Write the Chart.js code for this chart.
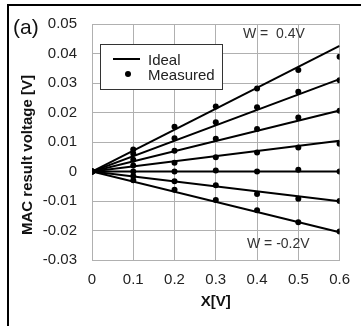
<!DOCTYPE html>
<html>
<head>
<meta charset="utf-8">
<script src="https://cdn.jsdelivr.net/npm/chart.js@4/dist/chart.umd.min.js"></script>
<style>
  html, body { margin: 0; padding: 0; background: #fff; }
  body { width: 361px; height: 326px; position: relative; overflow: hidden; font-family: "Liberation Sans", Arial, sans-serif; }
  #wrap { position: absolute; left: 0; top: 0; width: 361px; height: 326px; }
  .frame { position: absolute; left: 7px; top: 4px; width: 400px; height: 400px; border-top: 2px solid #000; border-left: 2px solid #000; }
  .txt { position: absolute; white-space: pre; color: #222; line-height: 1; }
  #legend { position: absolute; left: 100px; top: 44px; width: 121px; height: 44px; border: 1px solid #333; background: #fff; }
</style>
</head>
<body>
<div id="wrap"><canvas id="c" width="361" height="326"></canvas></div>
<div class="frame"></div>
<div class="txt" style="left:13px; top:16px; font-size:21px; color:#111;">(a)</div>
<div class="txt" id="ytitle" style="left:26px; top:155px; font-size:15px; font-weight:bold; color:#111; transform: translate(-50%,-50%) rotate(-90deg);">MAC result voltage [V]</div>
<div id="legend">
  <div style="position:absolute; left:12px; top:13px; width:27px; height:2px; background:#000;"></div>
  <div style="position:absolute; left:24px; top:26px; width:6px; height:6px; border-radius:50%; background:#000;"></div>
  <div class="txt" style="left:47px; top:7px; font-size:15px;">Ideal</div>
  <div class="txt" style="left:47px; top:22px; font-size:15px;">Measured</div>
</div>
<div class="txt" style="left:243px; top:26px; font-size:14px; color:#333;">W =  0.4V</div>
<div class="txt" style="left:247px; top:236px; font-size:14px; color:#333;">W = -0.2V</div>
<script>
const xValues = [0, 0.1, 0.2, 0.3, 0.4, 0.5, 0.6];
const weightLabels = ["0.4", "0.3", "0.2", "0.1", "0", "-0.1", "-0.2"];
const measuredW04  = [0, 0.0075, 0.0152, 0.0220, 0.0281, 0.0344, 0.0389];
const measuredW03  = [0, 0.0060, 0.0113, 0.0167, 0.0218, 0.0270, 0.0309];
const measuredW02  = [0, 0.0040, 0.0070, 0.0111, 0.0144, 0.0183, 0.0206];
const measuredW01  = [0, 0.0020, 0.0030, 0.0048, 0.0064, 0.0081, 0.0094];
const measuredW00  = [0, 0.0000, 0.0000, 0.0003, 0.0000, 0.0006, 0.0000];
const measuredWm01 = [0, -0.0015, -0.0033, -0.0047, -0.0076, -0.0092, -0.0100];
const measuredWm02 = [0, -0.0030, -0.0062, -0.0097, -0.0131, -0.0172, -0.0203];
const idealStartX = 0, idealEndX = 0.6;
const idealEnd = [0.0426, 0.0313, 0.0207, 0.0104, 0, -0.0101, -0.0206];
const yTicks = [-0.03, -0.02, -0.01, 0, 0.01, 0.02, 0.03, 0.04, 0.05];
const xTicks = [0, 0.1, 0.2, 0.3, 0.4, 0.5, 0.6];

const measured = [measuredW04, measuredW03, measuredW02, measuredW01, measuredW00, measuredWm01, measuredWm02];

const datasets = [];
idealEnd.forEach((v, i) => {
  datasets.push({
    label: 'Ideal W=' + weightLabels[i],
    data: [{x: idealStartX, y: 0}, {x: idealEndX, y: v}],
    showLine: true, borderColor: '#000', borderWidth: 2, pointRadius: 0, order: 2
  });
});
measured.forEach((arr, i) => {
  datasets.push({
    label: 'Measured W=' + weightLabels[i],
    data: arr.map((y, j) => ({x: xValues[j], y})),
    showLine: false, backgroundColor: '#000', borderColor: '#000', pointRadius: 3, pointBorderWidth: 0, order: 1
  });
});

const font = {family: '"Liberation Sans", Arial, sans-serif', size: 15};

new Chart(document.getElementById('c'), {
  type: 'scatter',
  data: { datasets },
  options: {
    responsive: false, animation: false, devicePixelRatio: 1,
    layout: { padding: { top: 20, right: 14, left: 0, bottom: 0 } },
    plugins: { legend: { display: false }, tooltip: { enabled: false } },
    scales: {
      x: {
        type: 'linear', min: 0, max: 0.6,
        afterBuildTicks: s => { s.ticks = xTicks.map(v => ({value: v})); },
        afterFit: s => { s.height = 66; },
        grid: { color: '#b0b0b0', lineWidth: 1, drawTicks: false },
        border: { color: '#b0b0b0' },
        ticks: { font, color: '#222', padding: 11, maxRotation: 0, callback: v => String(+v.toFixed(1)) },
        title: { display: true, text: 'X[V]', font: {...font, weight: 'bold'}, color: '#111', padding: {top: 0, bottom: 15} }
      },
      y: {
        type: 'linear', min: -0.03, max: 0.05,
        afterBuildTicks: s => { s.ticks = yTicks.map(v => ({value: v})); },
        afterFit: s => { s.width = 92; },
        grid: { color: '#b0b0b0', lineWidth: 1, drawTicks: false },
        border: { color: '#b0b0b0' },
        ticks: { font, color: '#222', padding: 15, callback: v => String(+v.toFixed(2)) }
      }
    }
  }
});
</script>
</body>
</html>
